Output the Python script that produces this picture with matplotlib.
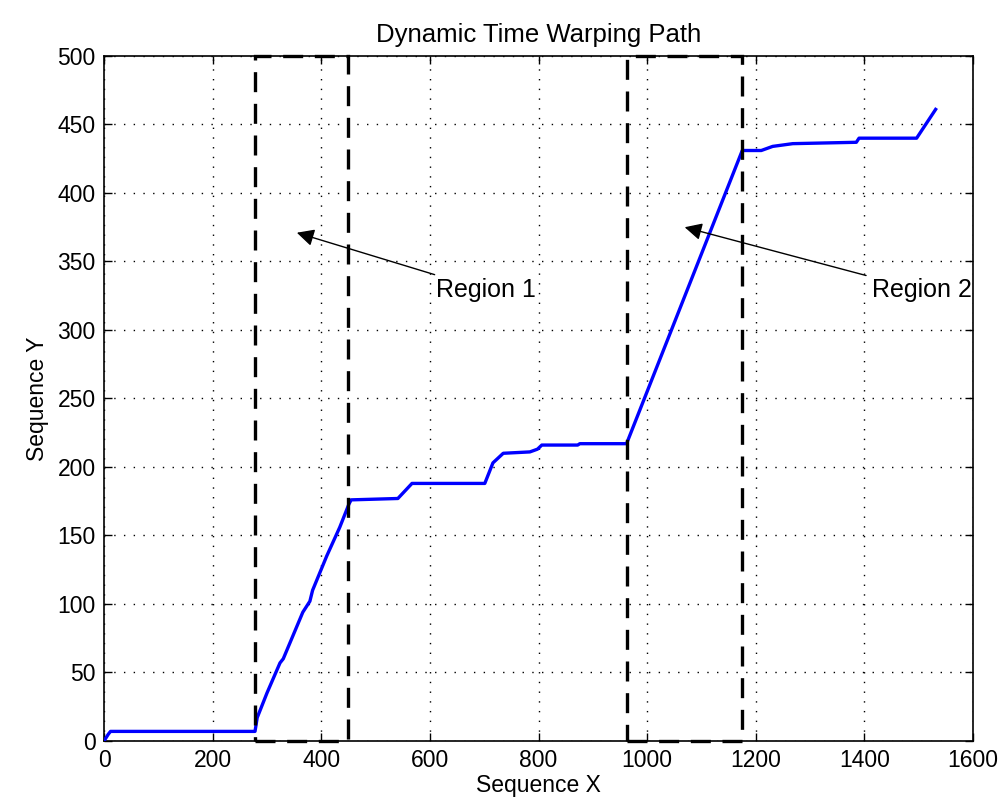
import matplotlib
matplotlib.use("Agg")
import matplotlib.pyplot as plt
from matplotlib.patches import Rectangle

plt.rcParams['font.family'] = ['Liberation Sans', 'DejaVu Sans']

# Warping path
path_x = [0, 8, 12, 278, 282, 300, 324, 330, 366, 379, 384, 410, 434, 451, 455,
          541, 567, 701, 716, 735, 784, 798, 806, 872, 876, 962, 1175, 1210,
          1231, 1268, 1385, 1390, 1496, 1531]
path_y = [0, 5, 7, 7, 17, 35, 57, 60, 94, 102, 110, 135, 156, 173, 176,
          177, 188, 188, 203, 210, 211, 213, 216, 216, 217, 217, 431, 431,
          434, 436, 437, 440, 440, 461]

# Regions (x start, x end)
region_names = ["Region 1", "Region 2"]
region_x0 = [278, 962]
region_x1 = [450, 1175]
region_arrow_tip = [(355, 371), (1069, 375)]
region_text_pos = [(611, 329), (1413, 329)]

xticks = [0, 200, 400, 600, 800, 1000, 1200, 1400, 1600]
yticks = [0, 50, 100, 150, 200, 250, 300, 350, 400, 450, 500]

fig = plt.figure(figsize=(10.03, 8.10), dpi=100)
ax = fig.add_axes([0.1037, 0.0852, 0.8665, 0.8457])

ax.plot(path_x, path_y, color='#0000ff', lw=2.4, zorder=3)

for x0, x1 in zip(region_x0, region_x1):
    r = Rectangle((x0, 0), x1 - x0, 500, fill=False, edgecolor='black',
                  lw=2.4, linestyle=(0, (6, 3.5)), clip_on=False, zorder=4)
    ax.add_patch(r)

for name, tip, tpos in zip(region_names, region_arrow_tip, region_text_pos):
    ax.annotate(name, xy=tip, xytext=tpos, fontsize=18, va='center', ha='left',
                arrowprops=dict(arrowstyle='-|>', color='black', lw=1.0,
                                mutation_scale=26, shrinkA=2, shrinkB=0),
                zorder=5)

ax.set_xlim(0, 1600)
ax.set_ylim(0, 500)
ax.set_xticks(xticks)
ax.set_yticks(yticks)
ax.tick_params(direction='in', top=True, right=True, labelsize=16.5, length=6,
               width=1, pad=6)
ax.grid(True, color='black', linestyle=(0, (1, 6)), lw=1.0)
for s in ax.spines.values():
    s.set_linewidth(1.2)

ax.set_title("Dynamic Time Warping Path", fontsize=18.5, pad=10)
ax.set_xlabel("Sequence X", fontsize=16.5, labelpad=1)
ax.set_ylabel("Sequence Y", fontsize=16.5, labelpad=6)

fig.savefig("out.png", dpi=100)
